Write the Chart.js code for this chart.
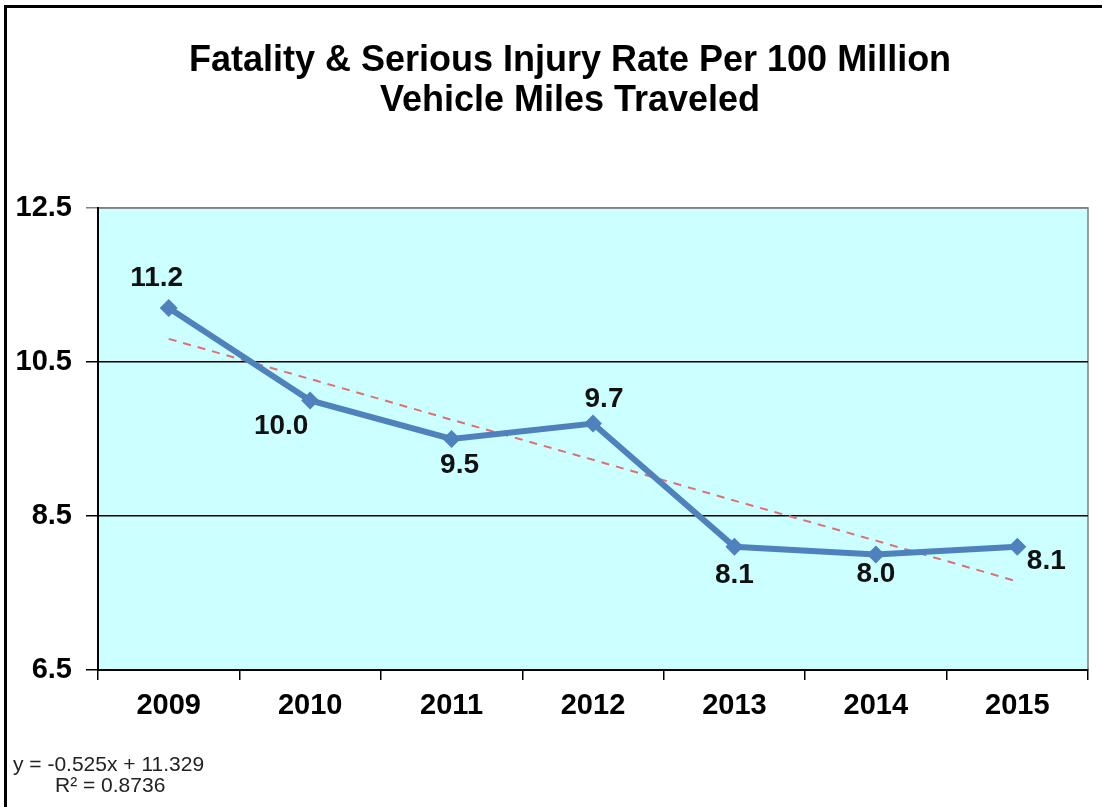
<!DOCTYPE html>
<html>
<head>
<meta charset="utf-8">
<script src="https://cdn.jsdelivr.net/npm/chart.js@4.4.1/dist/chart.umd.min.js"></script>
<style>
  html, body { margin: 0; padding: 0; background: #fff; }
  #wrap { position: absolute; left: 0; top: 0; width: 1102px; height: 807px; }
</style>
</head>
<body>
<div id="wrap"><canvas id="myChart" width="1102" height="807"></canvas></div>
<script>
let years = ['2009', '2010', '2011', '2012', '2013', '2014', '2015'];

let rates = [11.2, 10.0, 9.5, 9.7, 8.1, 8.0, 8.1];

// linear trend (y = -0.525x + 11.329)
let trend = [10.80, 10.28, 9.75, 9.23, 8.70, 8.18, 7.65];

let yTicks = [6.5, 8.5, 10.5, 12.5];

let titleLines = ['Fatality & Serious Injury Rate Per 100 Million', 'Vehicle Miles Traveled'];
let eqLines = ['y = -0.525x + 11.329', 'R\u00B2 = 0.8736'];

// where each value label sits relative to its point
let labelOffsets = [[-12, -30], [-29, 26], [8, 26], [11, -24], [0, 28], [0, 20], [29, 14]];

let FONT = "'Liberation Sans', Arial, sans-serif";

let frame = {
    id: 'frame',
    beforeDraw(chart) {
        let c = chart.ctx, a = chart.chartArea;
        c.save();
        c.fillStyle = '#fff';
        c.fillRect(0, 0, chart.width, chart.height);
        c.fillStyle = '#000';
        c.fillRect(4, 5, 3, chart.height);
        c.fillRect(4, 5, chart.width, 3);
        c.fillStyle = '#CCFFFF';
        c.fillRect(a.left, a.top, a.right - a.left, a.bottom - a.top);
        c.strokeStyle = '#808080';
        c.lineWidth = 1.5;
        c.beginPath();
        c.moveTo(a.left, a.top);
        c.lineTo(a.right, a.top);
        c.lineTo(a.right, a.bottom);
        c.stroke();
        // title
        c.fillStyle = '#000';
        c.font = 'bold 36px ' + FONT;
        c.textAlign = 'center';
        c.textBaseline = 'middle';
        c.fillText(titleLines[0], 570, 61);
        c.fillText(titleLines[1], 570, 101);
        c.restore();
    },
    afterDraw(chart) {
        let c = chart.ctx;
        c.save();
        c.fillStyle = '#222';
        c.font = '21px ' + FONT;
        c.textBaseline = 'middle';
        c.textAlign = 'left';
        c.fillText(eqLines[0], 13, 765);
        c.fillText(eqLines[1], 55, 786);
        c.restore();
    }
};

let valueLabels = {
    id: 'valueLabels',
    afterDatasetsDraw(chart) {
        let c = chart.ctx;
        let meta = chart.getDatasetMeta(1);
        c.save();
        c.fillStyle = '#111';
        c.font = 'bold 28px ' + FONT;
        c.textAlign = 'center';
        c.textBaseline = 'middle';
        meta.data.forEach((pt, i) => {
            let off = labelOffsets[i];
            c.fillText(rates[i].toFixed(1), pt.x + off[0], pt.y + off[1]);
        });
        c.restore();
    }
};

let ctx1 = document.getElementById('myChart').getContext('2d');

let chart1 = new Chart(ctx1, {
    type: 'line',
    data: {
        labels: years,
        datasets: [{
            label: 'Trend',
            data: trend,
            borderColor: '#E07070',
            borderWidth: 2,
            borderDash: [8, 7],
            pointRadius: 0,
            fill: false,
            order: 2
        }, {
            label: 'Rate',
            data: rates,
            borderColor: '#4F81BD',
            backgroundColor: '#4F81BD',
            borderWidth: 6,
            pointStyle: 'rectRot',
            pointRadius: 9,
            pointBorderWidth: 0,
            pointBackgroundColor: '#4F81BD',
            fill: false,
            order: 1
        }]
    },
    options: {
        responsive: false,
        animation: false,
        layout: { padding: { left: 6, right: 14, top: 208, bottom: 0 } },
        plugins: {
            legend: { display: false },
            tooltip: { enabled: false },
            title: { display: false }
        },
        scales: {
            x: {
                offset: true,
                grid: {
                    offset: true,
                    drawOnChartArea: false,
                    tickLength: 10,
                    color: '#000',
                    lineWidth: 1.5
                },
                border: { color: '#000', width: 2 },
                ticks: {
                    color: '#000',
                    padding: 9,
                    font: { family: FONT, size: 29, weight: 'bold' }
                },
                afterFit(s) { s.height = 137; }
            },
            y: {
                min: 6.5,
                max: 12.5,
                afterBuildTicks(s) { s.ticks = yTicks.map(v => ({ value: v })); },
                grid: {
                    tickLength: 12,
                    color: (c) => c.tick && c.tick.value === 12.5 ? '#808080' : '#000',
                    lineWidth: 1.5
                },
                border: { color: '#000', width: 2 },
                ticks: {
                    color: '#000',
                    padding: 14,
                    font: { family: FONT, size: 29, weight: 'bold' },
                    callback: (v) => Number(v).toFixed(1)
                },
                afterFit(s) { s.width = 92; }
            }
        }
    },
    plugins: [frame, valueLabels]
});
</script>
</body>
</html>
